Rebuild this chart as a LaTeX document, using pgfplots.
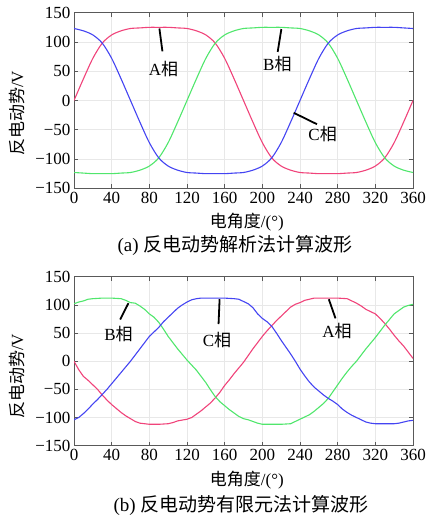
\documentclass[border=0pt]{standalone}
\usepackage{fontspec}
\setmainfont{Liberation Serif}
\newfontfamily\cjk{Noto Sans CJK SC}
\usepackage{pgfplots}
\pgfplotsset{compat=1.18}
\definecolor{cR}{HTML}{F0437A}
\definecolor{cGr}{HTML}{50E66C}
\definecolor{cB}{HTML}{4444F2}
\pgfplotsset{
  emf/.style={
    scale only axis, width=339pt, xmin=0, xmax=360, ymin=-150, ymax=150,
    xtick={0,40,...,360}, ytick={-150,-100,...,150},
    yticklabels={−150,−100,−50,0,50,100,150},
    grid=major, grid style={gray!18, line width=0.6pt},
    axis line style={black!65, line width=0.8pt},
    tick style={black!65, line width=0.6pt}, major tick length=4pt,
    tick label style={font=\fontsize{17}{19}\selectfont},
    /pgf/number format/assume math mode=true,
    label style={font=\fontsize{17}{19}\selectfont},
    xlabel={{\cjk 电角度}/(°)},
    ylabel={{\cjk 反电动势}/V},
  },
}
\tikzset{
  leader/.style={black, line width=1.8pt},
  tag/.style={font=\fontsize{17}{19}\selectfont, inner sep=0pt},
}
\begin{document}
\begin{tikzpicture}
\path[use as bounding box] (0,0) rectangle (426pt,519pt);

% (a) analytical
\begin{axis}[emf, at={(74pt,330.7pt)}, anchor=south west, height=175.6pt,
  xlabel style={at={(axis description cs:0.51,-0.19)}, anchor=center},
  ylabel style={at={(axis description cs:-0.169,0.426)}, anchor=center}]
\addplot[cR, line width=1.1pt, smooth] coordinates {
  (0,0)(10,37)(20,72)(30,98)(40,112)(50,119)(60,123)(70,124)(80,125)(90,125)
  (100,125)(110,124)(120,123)(130,119)(140,112)(150,98)(160,72)(170,37)(180,0)
  (190,-37)(200,-72)(210,-98)(220,-112)(230,-119)(240,-123)(250,-124)(260,-125)
  (270,-125)(280,-125)(290,-124)(300,-123)(310,-119)(320,-112)(330,-98)(340,-72)
  (350,-37)(360,0)};
\addplot[cGr, line width=1.1pt, smooth] coordinates {
  (0,-123)(10,-124)(20,-125)(30,-125)(40,-125)(50,-124)(60,-123)(70,-119)(80,-112)
  (90,-98)(100,-72)(110,-37)(120,0)(130,37)(140,72)(150,98)(160,112)(170,119)
  (180,123)(190,124)(200,125)(210,125)(220,125)(230,124)(240,123)(250,119)(260,112)
  (270,98)(280,72)(290,37)(300,0)(310,-37)(320,-72)(330,-98)(340,-112)(350,-119)
  (360,-123)};
\addplot[cB, line width=1.1pt, smooth] coordinates {
  (0,123)(10,119)(20,112)(30,98)(40,72)(50,37)(60,0)(70,-37)(80,-72)(90,-98)
  (100,-112)(110,-119)(120,-123)(130,-124)(140,-125)(150,-125)(160,-125)(170,-124)
  (180,-123)(190,-119)(200,-112)(210,-98)(220,-72)(230,-37)(240,0)(250,37)(260,72)
  (270,98)(280,112)(290,119)(300,123)(310,124)(320,125)(330,125)(340,125)(350,124)
  (360,123)};
\draw[leader] (axis cs:90.7,123) -- (axis cs:93.9,84);
\node[tag] at (axis cs:95,54) {A\cjk 相};
\draw[leader] (axis cs:220.2,122) -- (axis cs:216.3,83);
\node[tag] at (axis cs:216,62) {B\cjk 相};
\draw[leader] (axis cs:233.3,-21) -- (axis cs:258,-40.5);
\node[tag] at (axis cs:264,-57) {C\cjk 相};
\end{axis}
\node[font=\fontsize{19}{22}\selectfont] at (235pt,274pt) {(a) {\cjk 反电动势解析法计算波形}};

% (b) finite element
\begin{axis}[emf, at={(74pt,73.3pt)}, anchor=south west, height=169pt,
  xlabel style={at={(axis description cs:0.51,-0.203)}, anchor=center},
  ylabel style={at={(axis description cs:-0.169,0.41)}, anchor=center}]
\addplot[cR, line width=1.1pt] coordinates {
  (0,0)(5,-15)(10,-27)(15,-34)(20,-42)(25,-50)(30,-60)(35,-69)(40,-77)(45,-84)
  (50,-91)(55,-97)(60,-102)(65,-107)(70,-110)(80,-112)(90,-112)(100,-111)(105,-109)
  (110,-106)(120,-103)(125,-100)(130,-94)(135,-88)(140,-81)(145,-74)(150,-65)
  (155,-55)(160,-43)(165,-33)(170,-22)(175,-12)(180,-2)(185,10)(190,22)(195,33)
  (200,44)(205,54)(210,63)(215,72)(220,80)(225,88)(230,96)(235,101)(240,104)
  (245,108)(250,110)(255,112)(260,112)(270,112)(280,112)(290,111)(295,107)(300,103)
  (305,98)(310,92)(315,88)(320,84)(325,76)(330,67)(335,57)(340,46)(345,36)(350,27)
  (355,16)(360,5)};
\addplot[cGr, line width=1.1pt] coordinates {
  (0,102)(5,105)(10,107)(15,110)(20,111)(30,112)(40,112)(50,111)(55,108)(60,104)
  (65,103)(70,98)(75,92)(80,84)(85,78)(90,69)(95,57)(100,44)(105,33)(110,22)
  (115,12)(120,2)(125,-7)(130,-16)(135,-27)(140,-38)(145,-51)(150,-63)(155,-72)
  (160,-79)(165,-86)(170,-92)(175,-98)(180,-102)(185,-104)(190,-107)(195,-110)
  (200,-112)(210,-112)(220,-112)(230,-111)(235,-107)(240,-103)(245,-99)(250,-95)
  (255,-89)(260,-82)(265,-75)(270,-66)(275,-54)(280,-42)(285,-30)(290,-19)(295,-9)
  (300,0)(305,11)(310,22)(315,32)(320,42)(325,53)(330,64)(335,74)(340,84)(345,90)
  (350,96)(355,99)(360,101)};
\addplot[cB, line width=1.1pt] coordinates {
  (0,-104)(5,-100)(10,-93)(15,-85)(20,-76)(25,-68)(30,-59)(35,-50)(40,-40)(45,-30)
  (50,-20)(55,-10)(60,0)(65,11)(70,22)(75,33)(80,44)(85,52)(90,60)(95,70)(100,78)
  (105,86)(110,94)(115,100)(120,105)(125,109)(130,111)(135,112)(140,112)(150,112)
  (160,112)(170,111)(175,110)(180,106)(185,102)(190,95)(195,84)(200,76)(205,70)
  (210,62)(215,50)(220,37)(225,25)(230,13)(235,0)(240,-14)(245,-26)(250,-37)
  (255,-46)(260,-53)(265,-60)(270,-66)(275,-71)(280,-77)(285,-85)(290,-91)(295,-96)
  (300,-100)(305,-104)(310,-108)(315,-110)(320,-111)(330,-111)(340,-111)(345,-110)
  (350,-108)(355,-106)(360,-105)};
\draw[leader] (axis cs:57.8,103) -- (axis cs:49,74);
\node[tag] at (axis cs:47.2,49) {B\cjk 相};
\draw[leader] (axis cs:154.6,110) -- (axis cs:153.5,66);
\node[tag] at (axis cs:151.8,38) {C\cjk 相};
\draw[leader] (axis cs:270.6,110) -- (axis cs:277.7,76);
\node[tag] at (axis cs:279.4,53) {A\cjk 相};
\end{axis}
\node[font=\fontsize{19}{22}\selectfont] at (241pt,14pt) {(b) {\cjk 反电动势有限元法计算波形}};
\end{tikzpicture}
\end{document}
